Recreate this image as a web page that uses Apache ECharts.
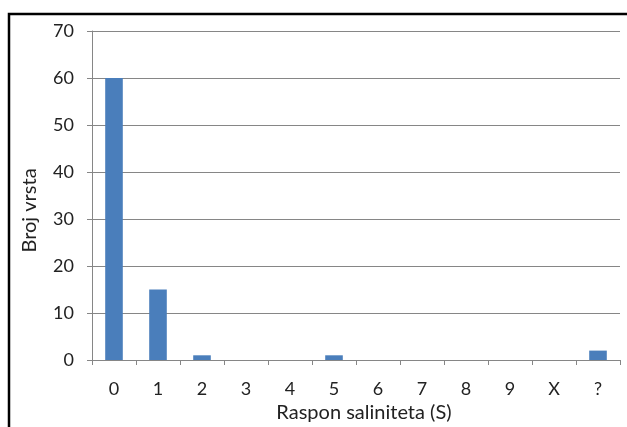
<!DOCTYPE html>
<html><head><meta charset="utf-8">
<script src="https://cdn.jsdelivr.net/npm/echarts@6/dist/echarts.min.js"></script>
<style>html,body{margin:0;padding:0;background:#fff}#c{width:627px;height:427px}</style>
</head><body><div id="c"></div>
<script>
const categories = ['0','1','2','3','4','5','6','7','8','9','X','?'];
const values = [60, 15, 1, 0, 0, 1, 0, 0, 0, 0, 0, 2];
const yTicks = {min: 0, max: 70, interval: 10};
const FONT = 'Lato, "Open Sans", sans-serif';
const chart = echarts.init(document.getElementById('c'));
chart.setOption({
  animation: false,
  backgroundColor: '#fff',
  graphic: [{type:'rect', shape:{x:9, y:14, width:640, height:440}, style:{fill:'none', stroke:'#000', lineWidth:2.5}, z:100}],
  grid: {left: 92, right: 7, top: 31, bottom: 67, containLabel: false, outerBoundsMode: 'none'},
  xAxis: {
    type: 'category', data: categories,
    name: 'Raspon saliniteta (S)', nameLocation: 'middle', nameGap: 43,
    nameTextStyle: {fontFamily: FONT, fontSize: 20, color: '#222', padding: [0, 0, 0, 16]},
    axisLine: {lineStyle: {color: '#868686', width: 1}},
    axisTick: {show: true, length: 5, lineStyle: {color: '#868686'}},
    axisLabel: {fontFamily: FONT, fontSize: 18, color: '#222', margin: 20}
  },
  yAxis: {
    type: 'value', min: yTicks.min, max: yTicks.max, interval: yTicks.interval,
    name: 'Broj vrsta', nameLocation: 'middle', nameGap: 52,
    nameTextStyle: {fontFamily: FONT, fontSize: 20, color: '#222', padding: [0, 30, 0, 0]},
    axisLine: {show: true, lineStyle: {color: '#868686', width: 1}},
    axisTick: {show: true, length: 5, lineStyle: {color: '#868686'}},
    axisLabel: {fontFamily: FONT, fontSize: 18, color: '#222', margin: 18},
    splitLine: {lineStyle: {color: '#868686', width: 1}}
  },
  series: [{type: 'bar', data: values, barWidth: '40%', itemStyle: {color: '#4a7ebb'}}]
});
</script></body></html>
